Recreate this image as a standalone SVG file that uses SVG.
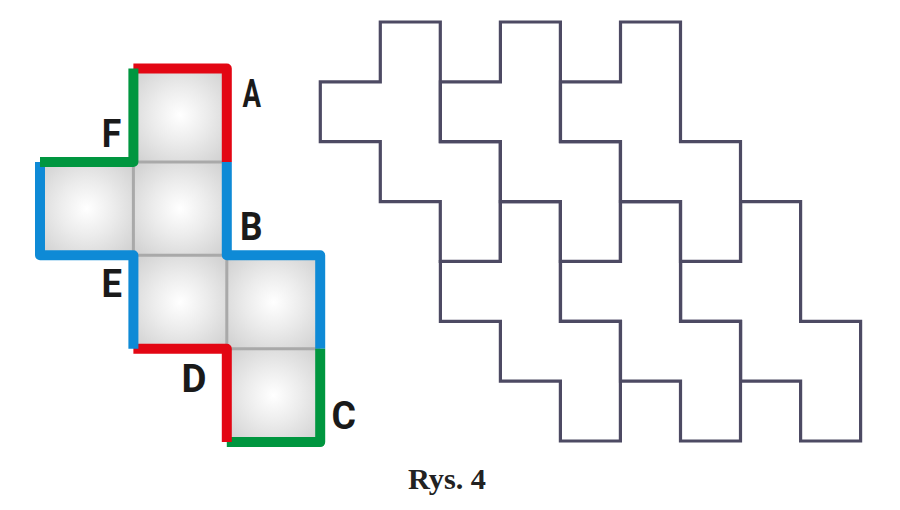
<svg xmlns="http://www.w3.org/2000/svg" width="900" height="510" viewBox="0 0 900 510">
  <defs>
    <radialGradient id="sq" cx="50%" cy="50%" r="65%">
      <stop offset="0" stop-color="#ffffff"/>
      <stop offset="0.45" stop-color="#ececec"/>
      <stop offset="1" stop-color="#d2d2d2"/>
    </radialGradient>
    <path id="tile" d="M60,0 H120 V119.7 H180 V239.4 H120 V179.6 H60 V119.7 H0 V59.9 H60 Z"/>
    <style>
      .tile { fill: none; stroke: #4d4a63; stroke-width: 3.2; stroke-linejoin: miter; }
      .cell { fill: url(#sq); }
      .div { stroke: #a9a9a9; stroke-width: 3; fill: none; }
      .edge { fill: none; stroke-width: 10; stroke-linejoin: round; stroke-linecap: butt; }
      .red { stroke: #e30613; }
      .blue { stroke: #0e8ad6; }
      .green { stroke: #00963f; }
      .lbl { font-family: Roboto, "Liberation Sans", sans-serif; font-weight: bold; font-size: 39px; fill: #1a1a1a; }
      .cap { font-family: "Liberation Serif", serif; font-weight: bold; font-size: 29px; fill: #222222; }
    </style>
  </defs>

  <g id="hexomino">
    <rect class="cell" x="133.4" y="68.5" width="93.4" height="93.4"/>
    <rect class="cell" x="40" y="161.9" width="93.4" height="93.4"/>
    <rect class="cell" x="133.4" y="161.9" width="93.4" height="93.4"/>
    <rect class="cell" x="133.4" y="255.3" width="93.4" height="93.4"/>
    <rect class="cell" x="226.8" y="255.3" width="93.4" height="93.4"/>
    <rect class="cell" x="226.8" y="348.7" width="93.4" height="93.4"/>
    <path class="div" d="M133.4,161.9 H226.8 M133.4,161.9 V255.3 M133.4,255.3 H226.8 M226.8,255.3 V348.7 M226.8,348.7 H320.2"/>
  </g>

  <g id="edges">
    <path class="edge red" d="M133.4,68.5 H226.8 V161.9"/>
    <path class="edge blue" d="M226.8,161.9 V255.3 H320.2 V348.7"/>
    <path class="edge green" d="M320.2,348.7 V442.1 H226.8"/>
    <path class="edge red" d="M226.8,442.1 V348.7 H133.4"/>
    <path class="edge blue" d="M133.4,348.7 V255.3 H40 V161.9"/>
    <path class="edge green" d="M40,161.9 H133.4 V68.5"/>
  </g>

  <g id="labels">
    <text class="lbl" x="242.5" y="107.3" textLength="18.5" lengthAdjust="spacingAndGlyphs">A</text>
    <text class="lbl" x="240" y="240" textLength="22.5" lengthAdjust="spacingAndGlyphs">B</text>
    <text class="lbl" x="331.5" y="429.3" textLength="24.5" lengthAdjust="spacingAndGlyphs">C</text>
    <text class="lbl" x="181.5" y="392.3" textLength="25" lengthAdjust="spacingAndGlyphs">D</text>
    <text class="lbl" x="101.5" y="296.7" textLength="20.5" lengthAdjust="spacingAndGlyphs">E</text>
    <text class="lbl" x="101.8" y="146.7" textLength="19.5" lengthAdjust="spacingAndGlyphs">F</text>
  </g>

  <g id="tiling">
    <use class="tile" href="#tile" x="320.3" y="22"/>
    <use class="tile" href="#tile" x="440.4" y="22"/>
    <use class="tile" href="#tile" x="560.5" y="22"/>
    <use class="tile" href="#tile" x="440.4" y="201.6"/>
    <use class="tile" href="#tile" x="560.5" y="201.6"/>
    <use class="tile" href="#tile" x="680.6" y="201.6"/>
  </g>

  <text class="cap" x="408" y="489.3" textLength="78" lengthAdjust="spacingAndGlyphs">Rys. 4</text>
</svg>
